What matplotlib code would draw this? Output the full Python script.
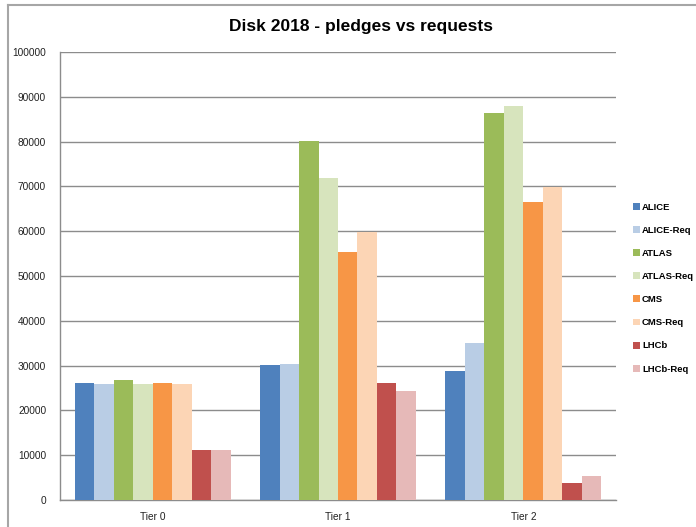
import numpy as np
import matplotlib
matplotlib.use("Agg")
import matplotlib.pyplot as plt
from matplotlib.lines import Line2D

# Disk 2018 pledges and requests per tier
tiers = ["Tier 0", "Tier 1", "Tier 2"]
series = ["ALICE", "ALICE-Req", "ATLAS", "ATLAS-Req", "CMS", "CMS-Req", "LHCb", "LHCb-Req"]
alice = [26100, 30100, 28800]
alice_req = [26000, 30400, 35000]
atlas = [26800, 80100, 86400]
atlas_req = [25900, 71900, 87900]
cms = [26100, 55400, 66600]
cms_req = [25800, 59900, 69900]
lhcb = [11200, 26100, 3800]
lhcb_req = [11100, 24400, 5400]
values = [alice, alice_req, atlas, atlas_req, cms, cms_req, lhcb, lhcb_req]
colors = ["#4F81BD", "#B9CDE5", "#9BBB59", "#D7E4BD",
          "#F79646", "#FCD5B5", "#C0504D", "#E6B9B8"]

plt.rcParams["font.family"] = ["Liberation Sans", "DejaVu Sans"]

fig = plt.figure(figsize=(6.96, 5.27), dpi=100)
ax = fig.add_axes([60 / 696, 27 / 527, 556 / 696, 448 / 527])

x = np.arange(len(tiers))
n = len(series)
group_w = 0.84
bar_w = group_w / n
for i, (name, vals, c) in enumerate(zip(series, values, colors)):
    offs = -group_w / 2 + bar_w * (i + 0.5)
    ax.bar(x + offs, vals, width=bar_w, color=c, label=name, zorder=3)

ax.set_xlim(-0.5, len(tiers) - 0.5)
ax.set_ylim(0, 100000)
ax.set_yticks(np.arange(0, 100001, 10000))
ax.set_xticks(x)
ax.set_xticklabels(tiers)
ax.tick_params(axis="both", length=0, labelsize=7.3, colors="#222222")
ax.tick_params(axis="y", pad=10)
ax.tick_params(axis="x", pad=9)
ax.yaxis.grid(True, color="#8C8C8C", linewidth=1, zorder=0)
for side in ["top", "right"]:
    ax.spines[side].set_visible(False)
for side in ["left", "bottom"]:
    ax.spines[side].set_color("#8C8C8C")
    ax.spines[side].set_linewidth(1)

fig.text(361 / 696, 1 - 27 / 527, "Disk 2018 - pledges vs requests",
         ha="center", va="center", fontsize=12.5, fontweight="bold")

leg = fig.legend(loc="upper left", bbox_to_anchor=(624 / 696, 1 - 194 / 527),
                 frameon=False, handlelength=0.75, handleheight=0.75,
                 handletextpad=0.25, labelspacing=1.5,
                 prop={"size": 6.8, "weight": "bold"})

# outer chart border
fig.add_artist(Line2D([8 / 696, 1], [1 - 4.5 / 527] * 2, color="#A6A6A6", lw=1.5))
fig.add_artist(Line2D([8 / 696] * 2, [0, 1 - 4.5 / 527], color="#A6A6A6", lw=1.5))

fig.savefig("out.png", dpi=100)
